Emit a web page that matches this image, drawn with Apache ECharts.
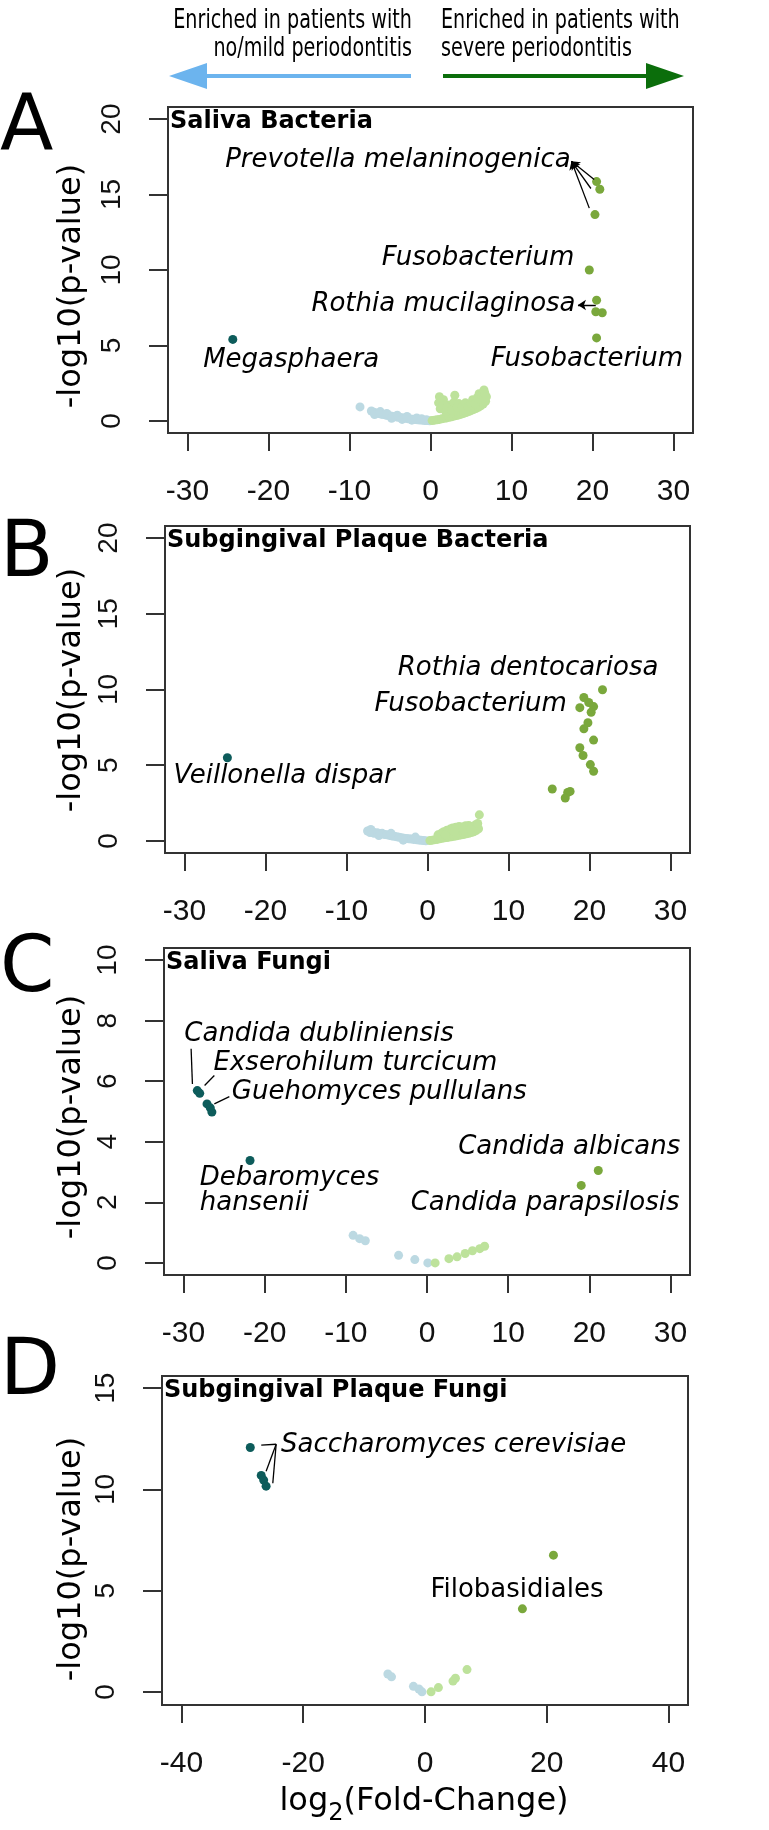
<!DOCTYPE html>
<html>
<head>
<meta charset="utf-8">
<title>Volcano plots – periodontitis</title>
<script src="https://cdn.jsdelivr.net/npm/echarts@6/dist/echarts.min.js"></script>
<style>
  html, body { margin: 0; padding: 0; background: #fff; }
  #chart { width: 769px; height: 1830px; }
</style>
</head>
<body>
<div id="chart"></div>
<script>
// values: [log2 fold change, -log10 p]

// A: saliva bacteria
const salivaBactLightBlue = [
  [-8.7, 0.93], [-7.3, 0.66], [-7.0, 0.58], [-6.7, 0.52], [-6.4, 0.5], [-6.1, 0.45], [-5.8, 0.42],
  [-5.5, 0.38], [-5.2, 0.36], [-4.9, 0.32], [-4.6, 0.3], [-4.3, 0.27], [-4.0, 0.24], [-3.7, 0.22],
  [-3.4, 0.2], [-3.1, 0.17], [-2.8, 0.15], [-2.5, 0.13], [-2.2, 0.11], [-1.9, 0.09], [-1.6, 0.08],
  [-1.3, 0.06], [-1.0, 0.05], [-0.7, 0.03], [-0.4, 0.02], [-0.1, 0.01], [-6.9, 0.42], [-6.2, 0.62],
  [-5.4, 0.5], [-4.8, 0.18], [-4.1, 0.38], [-3.5, 0.1], [-2.9, 0.3], [-2.3, 0.05], [-1.7, 0.2],
  [-1.1, 0.15], [-0.5, 0.08]
];
const salivaBactLightGreen = [
  [0.2, 0.02], [0.5, 0.05], [0.8, 0.08], [1.1, 0.1], [1.4, 0.14], [1.7, 0.17], [2.0, 0.2], [2.3, 0.24],
  [2.6, 0.28], [2.9, 0.32], [3.2, 0.36], [3.5, 0.4], [3.8, 0.45], [4.1, 0.5], [4.4, 0.56], [4.7, 0.62],
  [5.0, 0.68], [5.3, 0.75], [5.6, 0.82], [5.9, 0.9], [6.2, 1.0], [6.5, 1.12], [6.8, 1.3],
  [1.1, 1.6], [1.0, 1.2], [1.2, 0.8], [1.6, 1.4], [1.5, 1.0], [1.9, 0.6], [2.3, 1.05], [2.0, 0.9],
  [2.6, 0.7], [3.0, 1.7], [2.9, 1.25], [3.3, 0.9], [3.5, 1.15], [3.9, 0.95], [4.3, 1.2], [4.6, 0.95],
  [5.0, 1.15], [5.2, 1.4], [5.5, 1.15], [5.8, 1.55], [6.1, 1.45], [6.0, 1.8], [6.3, 1.7], [6.6, 2.05],
  [6.7, 1.85], [6.6, 1.5], [6.9, 1.6]
];
const salivaBactDark = [[-24.4, 5.4]];
const salivaBactGreen = [
  [20.5, 15.86], [20.9, 15.35], [20.3, 13.67], [19.6, 10.0], [20.5, 8.0], [20.4, 7.23], [21.2, 7.17], [20.5, 5.5]
];
const salivaBactLabels = [
  ['Prevotella melaninogenica', 17.3, 17.3, 'right'],
  ['Fusobacterium', 17.75, 10.8, 'right'],
  ['Rothia mucilaginosa', 17.9, 7.7, 'right'],
  ['Megasphaera', -17.2, 4.0, 'center'],
  ['Fusobacterium', 19.3, 4.1, 'center']
];
const salivaBactArrows = [
  [[20.2, 16.0], [17.4, 17.2]],
  [[19.8, 15.4], [17.4, 17.2]],
  [[19.6, 14.1], [17.4, 17.2]],
  [[20.4, 7.68], [18.2, 7.68]]
];

// B: subgingival plaque bacteria
const plaqueBactLightBlue = [
  [-7.4, 0.65], [-7.1, 0.55], [-6.8, 0.62], [-6.6, 0.5], [-6.2, 0.53], [-5.9, 0.48], [-5.6, 0.5],
  [-5.3, 0.42], [-5.0, 0.4], [-4.7, 0.36], [-4.4, 0.33], [-4.1, 0.3], [-3.8, 0.27], [-3.5, 0.24],
  [-3.2, 0.2], [-2.9, 0.18], [-2.6, 0.16], [-2.3, 0.14], [-2.0, 0.12], [-1.7, 0.1], [-1.4, 0.08],
  [-1.1, 0.06], [-0.8, 0.04], [-0.5, 0.02], [-0.2, 0.01], [-7.0, 0.75], [-6.0, 0.35], [-4.5, 0.5],
  [-3.0, 0.05], [-1.5, 0.25]
];
const plaqueBactLightGreen = [
  [0.3, 0.02], [0.6, 0.05], [0.9, 0.08], [1.2, 0.1], [1.5, 0.14], [1.8, 0.17], [2.1, 0.2], [2.4, 0.22],
  [2.7, 0.25], [3.0, 0.28], [3.3, 0.31], [3.6, 0.34], [3.9, 0.37], [4.2, 0.4], [4.5, 0.43], [4.8, 0.47],
  [5.1, 0.5], [5.4, 0.55], [5.7, 0.6], [6.0, 0.68], [6.3, 0.8],
  [1.3, 0.4], [1.7, 0.5], [2.0, 0.6], [2.4, 0.7], [2.8, 0.78], [3.1, 0.85], [3.5, 0.9], [3.9, 0.95],
  [4.3, 0.92], [4.7, 1.0], [5.1, 1.02], [5.5, 0.95], [5.9, 1.05], [6.2, 1.15], [6.4, 1.72],
  [2.2, 0.4], [3.3, 0.6], [4.5, 0.7], [5.3, 0.78]
];
const plaqueBactDark = [[-24.7, 5.49]];
const plaqueBactGreen = [
  [21.6, 9.98], [19.3, 9.47], [19.9, 9.14], [18.8, 8.8], [20.5, 8.87], [20.2, 8.5], [19.8, 7.8],
  [19.3, 7.4], [20.5, 6.66], [18.8, 6.15], [19.2, 5.64], [20.1, 5.04], [20.5, 4.6], [15.4, 3.43],
  [17.3, 3.2], [17.0, 2.83], [17.6, 3.27]
];
const plaqueBactLabels = [
  ['Rothia dentocariosa', 28.5, 11.4, 'right'],
  ['Fusobacterium', 17.2, 9.0, 'right'],
  ['Veillonella dispar', -17.7, 4.3, 'center']
];
const plaqueBactArrows = [];

// C: saliva fungi
const salivaFungiLightBlue = [[-9.1, 0.91], [-8.3, 0.8], [-7.6, 0.73], [-3.5, 0.25], [-1.5, 0.11], [0.1, 0.0]];
const salivaFungiLightGreen = [[1.0, 0.0], [2.7, 0.14], [3.7, 0.2], [4.7, 0.31], [5.6, 0.4], [6.5, 0.47], [7.1, 0.55]];
const salivaFungiDark = [[-28.3, 5.69], [-28.0, 5.6], [-27.1, 5.25], [-26.7, 5.12], [-26.5, 4.98], [-21.8, 3.38]];
const salivaFungiGreen = [[21.1, 3.05], [19.0, 2.56]];
const salivaFungiLabels = [
  ['Candida dubliniensis', -29.9, 7.56, 'left'],
  ['Exserohilum turcicum', -26.3, 6.6, 'left'],
  ['Guehomyces pullulans', -24.05, 5.65, 'left'],
  ['Debaromyces\nhansenii', -28.0, 2.37, 'left'],
  ['Candida albicans', 31.2, 3.82, 'right'],
  ['Candida parapsilosis', 31.1, 1.98, 'right']
];
const salivaFungiLines = [
  [[-29.06, 7.07], [-28.9, 5.91]],
  [[-26.2, 6.19], [-27.4, 5.86]],
  [[-24.35, 5.49], [-26.2, 5.25]]
];

// D: subgingival plaque fungi
const plaqueFungiLightBlue = [[-6.1, 0.88], [-5.5, 0.74], [-1.9, 0.27], [-1.0, 0.14], [-0.5, 0.0]];
const plaqueFungiLightGreen = [[1.0, 0.0], [2.2, 0.21], [4.6, 0.53], [5.0, 0.67], [6.9, 1.1]];
const plaqueFungiDark = [[-28.7, 12.07], [-26.9, 10.69], [-26.5, 10.46], [-26.1, 10.16]];
const plaqueFungiGreen = [[21.1, 6.75], [16.0, 4.1]];
const plaqueFungiLabels = [
  ['Saccharomyces cerevisiae', -23.65, 12.2, 'left'],
  ['Filobasidiales', 15.1, 5.04, 'center']
];
const plaqueFungiLines = [
  [[-24.45, 12.23], [-26.9, 12.19]],
  [[-24.45, 12.23], [-26.1, 10.9]],
  [[-24.45, 12.23], [-25.0, 10.3]]
];
const uprightLabels = ['Filobasidiales'];

// tick labels
const xTicks30 = [-30, -20, -10, 0, 10, 20, 30];
const xTicks40 = [-40, -20, 0, 20, 40];
const yTicks20 = [0, 5, 10, 15, 20];
const yTicks10 = [0, 2, 4, 6, 8, 10];
const yTicks15 = [0, 5, 10, 15];

const COL_LIGHTBLUE = '#bcd9e2';
const COL_LIGHTGREEN = '#bde29b';
const COL_DARK = '#0d5c5b';
const COL_GREEN = '#7aa83c';
const SANS = 'DejaVu Sans';
const TICK_FONT = 'Liberation Sans';
const HEAD_FONT = '27px "DejaVu Sans"';

const panels = [
  { letter: 'A', title: 'Saliva Bacteria', grid: { left: 168, top: 107, width: 525, height: 326 },
    x: [-32.4, 32.4], xTicks: xTicks30, y: [-0.8, 20.8], yTicks: yTicks20,
    pts: [salivaBactLightBlue, salivaBactLightGreen, salivaBactDark, salivaBactGreen],
    labels: salivaBactLabels, lines: salivaBactArrows, arrow: true,
    letterY: 130, yTitleY: 286 },
  { letter: 'B', title: 'Subgingival Plaque Bacteria', grid: { left: 165, top: 526, width: 525, height: 327 },
    x: [-32.4, 32.4], xTicks: xTicks30, y: [-0.8, 20.8], yTicks: yTicks20,
    pts: [plaqueBactLightBlue, plaqueBactLightGreen, plaqueBactDark, plaqueBactGreen],
    labels: plaqueBactLabels, lines: plaqueBactArrows, arrow: true,
    letterY: 556, yTitleY: 690 },
  { letter: 'C', title: 'Saliva Fungi', grid: { left: 164, top: 948, width: 526, height: 327 },
    x: [-32.4, 32.4], xTicks: xTicks30, y: [-0.4, 10.4], yTicks: yTicks10,
    pts: [salivaFungiLightBlue, salivaFungiLightGreen, salivaFungiDark, salivaFungiGreen],
    labels: salivaFungiLabels, lines: salivaFungiLines, arrow: false,
    letterY: 971, yTitleY: 1117 },
  { letter: 'D', title: 'Subgingival Plaque Fungi', grid: { left: 162, top: 1376, width: 526, height: 329 },
    x: [-43.2, 43.2], xTicks: xTicks40, y: [-0.65, 15.6], yTicks: yTicks15,
    pts: [plaqueFungiLightBlue, plaqueFungiLightGreen, plaqueFungiDark, plaqueFungiGreen],
    labels: plaqueFungiLabels, lines: plaqueFungiLines, arrow: false,
    letterY: 1374, yTitleY: 1559 }
];

const pointColors = [COL_LIGHTBLUE, COL_LIGHTGREEN, COL_DARK, COL_GREEN];

const grids = [];
const xAxes = [];
const yAxes = [];
const series = [];
const graphics = [];

panels.forEach((p, i) => {
  grids.push(Object.assign({ show: true, borderColor: '#333', borderWidth: 2, containLabel: false }, p.grid));

  xAxes.push({
    type: 'value', gridIndex: i, position: 'bottom', min: p.x[0], max: p.x[1],
    axisLine: { show: false, onZero: false },
    splitLine: { show: false },
    axisTick: { show: true, customValues: p.xTicks, length: 18, lineStyle: { color: '#333', width: 2 } },
    axisLabel: { customValues: p.xTicks, margin: 44, fontSize: 30, fontFamily: TICK_FONT, color: '#111' }
  });
  yAxes.push({
    type: 'value', gridIndex: i, position: 'left', min: p.y[0], max: p.y[1],
    axisLine: { show: false, onZero: false },
    splitLine: { show: false },
    axisTick: { show: true, customValues: p.yTicks, length: 19, lineStyle: { color: '#333', width: 2 } },
    axisLabel: { customValues: p.yTicks, rotate: 90, margin: 42, fontSize: 28, fontFamily: TICK_FONT, color: '#111' }
  });

  p.pts.forEach((arr, k) => {
    series.push({
      type: 'scatter', xAxisIndex: i, yAxisIndex: i, data: arr,
      symbolSize: 9, itemStyle: { color: pointColors[k], opacity: 1 },
      silent: true, z: 2
    });
  });

  if (p.lines.length) {
    series.push({
      type: 'lines', coordinateSystem: 'cartesian2d', xAxisIndex: i, yAxisIndex: i,
      data: p.lines.map(c => ({ coords: c })),
      symbol: p.arrow ? ['none', 'arrow'] : ['none', 'none'], symbolSize: 8,
      lineStyle: { color: '#000', width: 1.3, opacity: 1 },
      silent: true, z: 3
    });
  }

  series.push({
    type: 'scatter', xAxisIndex: i, yAxisIndex: i, symbolSize: 1,
    itemStyle: { color: 'rgba(0,0,0,0)', opacity: 1 }, silent: true, z: 4,
    data: p.labels.map(l => ({
      name: l[0], value: [l[1], l[2]],
      label: {
        show: true, position: 'inside', formatter: '{b}', align: l[3], verticalAlign: 'middle',
        fontFamily: SANS, fontSize: 26, lineHeight: 25, color: '#000', opacity: 1,
        textBorderWidth: 0,
        fontStyle: uprightLabels.includes(l[0]) ? 'normal' : 'italic'
      }
    }))
  });

  // panel letter, in-box title, y axis title
  graphics.push({ type: 'text', x: 0, y: p.letterY,
    style: { text: p.letter, font: '78px "DejaVu Sans"', fill: '#000', align: 'left', verticalAlign: 'middle' } });
  graphics.push({ type: 'text', x: p.grid.left + 2, y: p.grid.top + 15,
    style: { text: p.title, font: 'bold 24px "DejaVu Sans"', fill: '#000', align: 'left', verticalAlign: 'middle' } });
  graphics.push({ type: 'text', x: 72, y: p.yTitleY, rotation: Math.PI / 2,
    style: { text: '-log10(p-value)', font: '32px "DejaVu Sans"', fill: '#000', align: 'center', verticalAlign: 'middle' } });
});

// header: direction of enrichment (narrowed DejaVu, as in the figure)
const headScale = 0.71;
graphics.push(
  { type: 'text', x: 412, y: 21, scaleX: headScale, style: { text: 'Enriched in patients with', font: HEAD_FONT, fill: '#000', align: 'right', verticalAlign: 'middle' } },
  { type: 'text', x: 412, y: 49, scaleX: headScale, style: { text: 'no/mild periodontitis', font: HEAD_FONT, fill: '#000', align: 'right', verticalAlign: 'middle' } },
  { type: 'text', x: 441, y: 21, scaleX: headScale, style: { text: 'Enriched in patients with', font: HEAD_FONT, fill: '#000', align: 'left', verticalAlign: 'middle' } },
  { type: 'text', x: 441, y: 49, scaleX: headScale, style: { text: 'severe periodontitis', font: HEAD_FONT, fill: '#000', align: 'left', verticalAlign: 'middle' } },
  { type: 'line', shape: { x1: 411, y1: 76, x2: 200, y2: 76 }, style: { stroke: '#6cb4ee', lineWidth: 4 } },
  { type: 'polygon', shape: { points: [[169, 76], [207, 63], [207, 89]] }, style: { fill: '#6cb4ee' } },
  { type: 'line', shape: { x1: 443, y1: 76, x2: 654, y2: 76 }, style: { stroke: '#0b6e0b', lineWidth: 4 } },
  { type: 'polygon', shape: { points: [[684, 76], [646, 63], [646, 89]] }, style: { fill: '#0b6e0b' } }
);

// x axis title with subscript
graphics.push({
  type: 'text', x: 424, y: 1806,
  style: {
    text: '{m|log}{s|2}{m|(Fold-Change)}',
    align: 'center', verticalAlign: 'middle',
    rich: {
      m: { fontFamily: SANS, fontSize: 32, lineHeight: 40, fill: '#000', verticalAlign: 'top' },
      s: { fontFamily: SANS, fontSize: 24, lineHeight: 24, fill: '#000', verticalAlign: 'bottom' }
    }
  }
});

const chart = echarts.init(document.getElementById('chart'), null, { renderer: 'canvas' });
chart.setOption({
  animation: false,
  backgroundColor: '#fff',
  grid: grids,
  xAxis: xAxes,
  yAxis: yAxes,
  series: series,
  graphic: graphics
});
</script>
</body>
</html>
